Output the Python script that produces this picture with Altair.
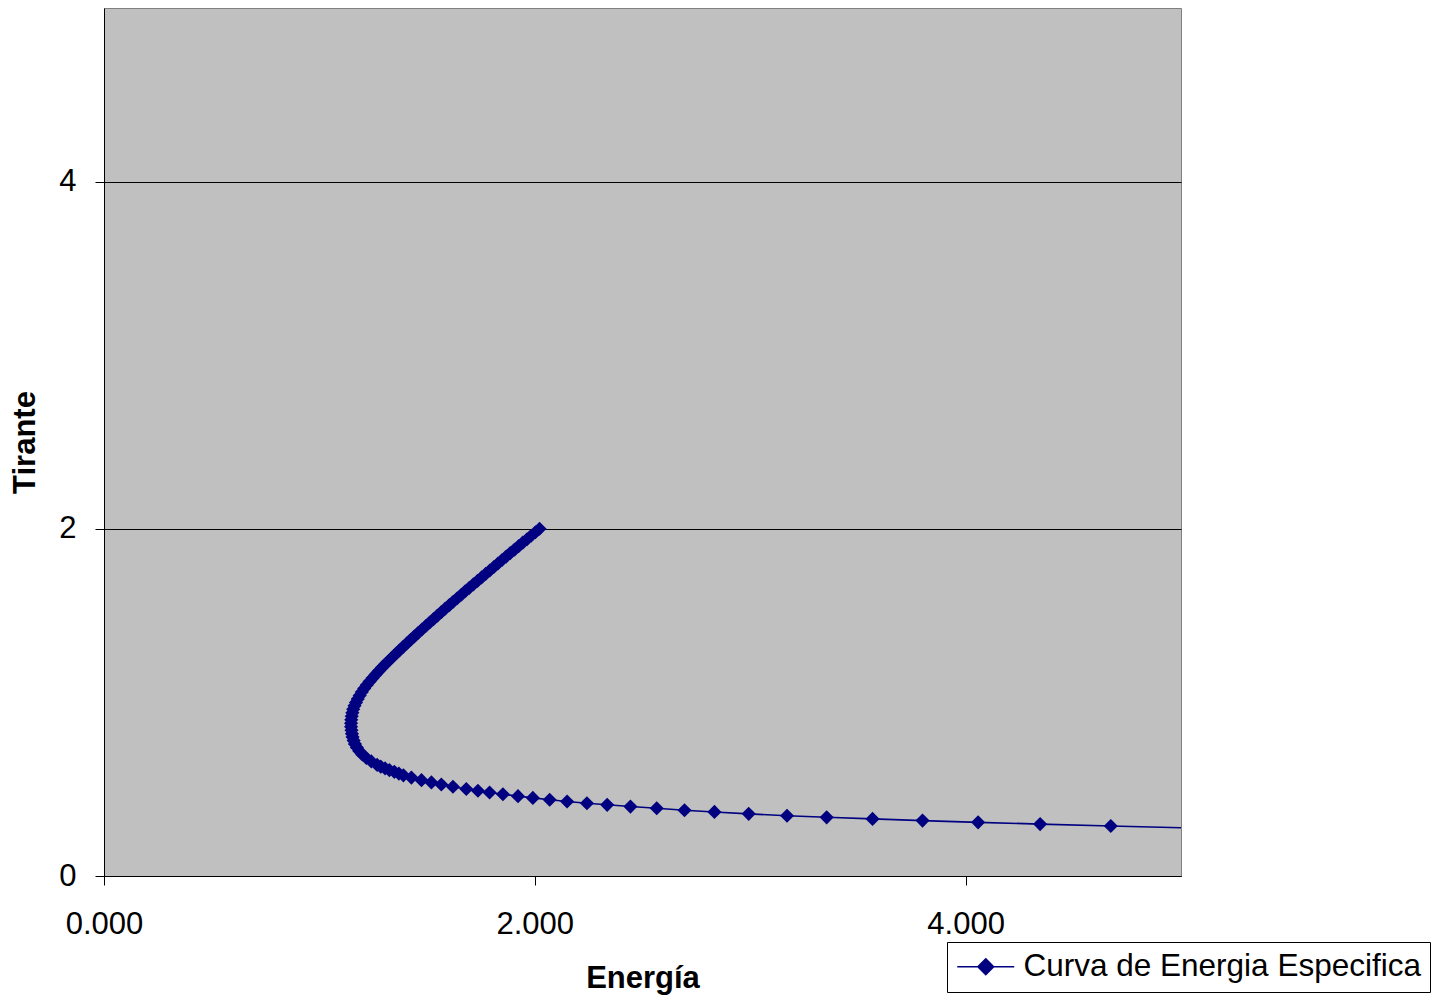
import altair as alt
import pandas as pd

# Tirante (depth) and Energía (specific energy)
tirante = [
    2.00, 1.98, 1.96, 1.94, 1.92, 1.90, 1.88, 1.86, 1.84, 1.82,
    1.80, 1.78, 1.76, 1.74, 1.72, 1.70, 1.68, 1.66, 1.64, 1.62,
    1.60, 1.58, 1.56, 1.54, 1.52, 1.50, 1.48, 1.46, 1.44, 1.42,
    1.40, 1.38, 1.36, 1.34, 1.32, 1.30, 1.28, 1.26, 1.24, 1.22,
    1.20, 1.18, 1.16, 1.14, 1.12, 1.10, 1.08, 1.06, 1.04, 1.02,
    1.00, 0.98, 0.96, 0.94, 0.92, 0.90, 0.88, 0.86, 0.84, 0.82,
    0.80, 0.78, 0.76, 0.74, 0.72, 0.70, 0.68, 0.66, 0.64, 0.63,
    0.62, 0.61, 0.60, 0.59, 0.580, 0.567, 0.552, 0.539, 0.527, 0.514,
    0.501, 0.491, 0.481, 0.471, 0.460, 0.450, 0.439, 0.429, 0.419, 0.410,
    0.400, 0.390, 0.379, 0.369, 0.358, 0.347, 0.338, 0.329, 0.319, 0.309,
    0.299, 0.288, 0.275,
]
energia = [
    2.022, 2.003, 1.983, 1.964, 1.944, 1.925, 1.906, 1.886, 1.867, 1.848,
    1.829, 1.810, 1.791, 1.772, 1.753, 1.734, 1.715, 1.696, 1.677, 1.659,
    1.640, 1.621, 1.603, 1.584, 1.566, 1.548, 1.530, 1.512, 1.494, 1.476,
    1.458, 1.441, 1.423, 1.406, 1.389, 1.372, 1.355, 1.339, 1.322, 1.306,
    1.290, 1.275, 1.261, 1.247, 1.233, 1.220, 1.208, 1.197, 1.187, 1.178,
    1.170, 1.163, 1.157, 1.153, 1.150, 1.148, 1.147, 1.147, 1.149, 1.151,
    1.154, 1.159, 1.165, 1.174, 1.185, 1.199, 1.218, 1.241, 1.268, 1.285,
    1.305, 1.325, 1.348, 1.369, 1.390, 1.427, 1.474, 1.520, 1.566, 1.620,
    1.682, 1.736, 1.790, 1.852, 1.922, 1.991, 2.069, 2.150, 2.242, 2.336,
    2.444, 2.566, 2.695, 2.834, 2.993, 3.171, 3.355, 3.568, 3.800, 4.058,
    4.346, 4.674, 5.100,
]
serie = "Curva de Energia Especifica"

x_ticks = [0, 2, 4]
y_ticks = [0, 2, 4]

df = pd.DataFrame({
    "E": energia,
    "Y": tirante,
    "orden": list(range(len(tirante))),
    "serie": [serie] * len(tirante),
})

NAVY = "#000080"
FONT = "Liberation Sans"

x_enc = alt.X(
    "E:Q",
    scale=alt.Scale(domain=[0, 5], nice=False, zero=True),
    axis=alt.Axis(
        values=x_ticks, format=".3f", title="Energía", grid=False,
        domainColor="black", tickColor="black", tickSize=9, labelPadding=24,
        labelFontSize=31, labelFont=FONT, labelColor="black",
        titleFontSize=31, titleFont=FONT, titleFontWeight="bold", titleColor="black",
        titleX=538.5, titleY=102, titleBaseline="middle", labelFlush=False,
    ),
)
y_enc = alt.Y(
    "Y:Q",
    scale=alt.Scale(domain=[0, 5], nice=False, zero=True),
    axis=alt.Axis(
        values=y_ticks, format="d", title="Tirante", grid=True,
        gridColor="black", gridWidth=1, gridOpacity=1,
        domainColor="black", tickColor="black", tickSize=9, labelPadding=19,
        labelFontSize=31, labelFont=FONT, labelColor="black",
        titleFontSize=31, titleFont=FONT, titleFontWeight="bold", titleColor="black",
        titleX=-79, titleY=434, titleBaseline="middle", titleAngle=270, labelFlush=False,
    ),
)

base = alt.Chart(df)

line = base.mark_line(color=NAVY, strokeWidth=1.6, clip=True).encode(
    x=x_enc, y=y_enc, order="orden:Q"
)

points = base.mark_point(
    shape="diamond", filled=True, size=200, opacity=1, clip=True
).encode(
    x=x_enc,
    y=y_enc,
    color=alt.Color(
        "serie:N",
        scale=alt.Scale(range=[NAVY]),
        legend=alt.Legend(
            title=None, orient="none", legendX=843, legendY=934,
            fillColor="white", strokeColor="black",
            padding=9, labelFontSize=31.5, labelFont=FONT, labelColor="black",
            labelLimit=1000, labelOffset=22,
            symbolType="M-2,0L2,0M0,-0.55L0.55,0L0,0.55L-0.55,0Z",
            symbolSize=812, symbolOffset=14,
            symbolStrokeColor=NAVY, symbolStrokeWidth=1.6,
            symbolFillColor=NAVY, symbolOpacity=1,
        ),
    ),
)

chart = (
    alt.layer(line, points)
    .properties(
        width=1077, height=868,
        padding={"left": 96, "top": 0, "right": 250, "bottom": 120},
        autosize=alt.AutoSizeParams(type="none"),
        background="white",
    )
    .configure_view(fill="#C0C0C0", stroke="#808080", strokeWidth=1)
)

chart.save("out.html", embed_options={"renderer": "svg", "actions": False})
